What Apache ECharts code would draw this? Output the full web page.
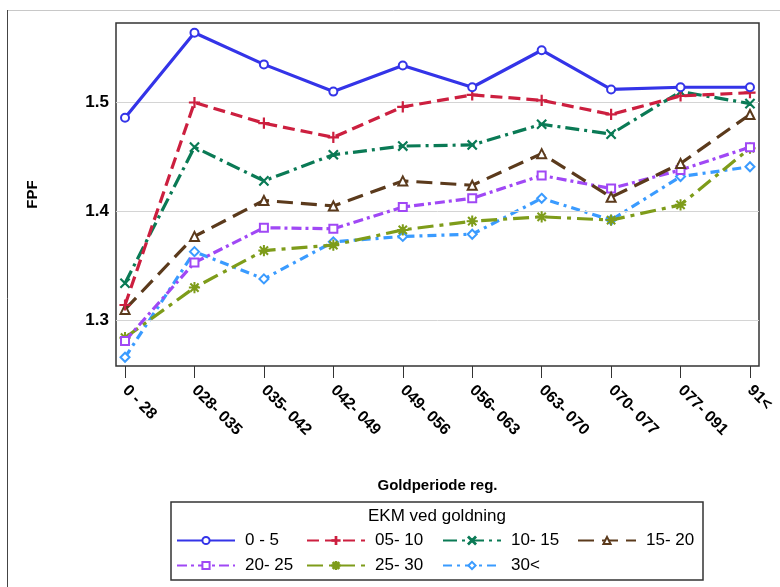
<!DOCTYPE html>
<html><head><meta charset="utf-8">
<script src="https://cdn.jsdelivr.net/npm/echarts@6/dist/echarts.min.js"></script>
<style>html,body{margin:0;padding:0;background:#fff}#c{width:780px;height:587px}</style>
</head><body><div id="c"></div>
<script>
const categories = ['0 - 28','028- 035','035- 042','042- 049','049- 056','056- 063','063- 070','070- 077','077- 091','91<'];
const yTicks = [1.3, 1.4, 1.5];
const seriesNames = ['0 - 5','05- 10','10- 15','15- 20','20- 25','25- 30','30<'];
const s0_5   = [1.486,1.564,1.535,1.510,1.534,1.514,1.548,1.512,1.514,1.514];
const s05_10 = [1.314,1.500,1.481,1.468,1.496,1.507,1.502,1.489,1.506,1.509];
const s10_15 = [1.334,1.459,1.428,1.452,1.460,1.461,1.480,1.471,1.510,1.499];
const s15_20 = [1.310,1.377,1.410,1.405,1.428,1.424,1.453,1.413,1.444,1.489];
const s20_25 = [1.281,1.353,1.385,1.384,1.404,1.412,1.433,1.421,1.438,1.459];
const s25_30 = [1.284,1.330,1.364,1.369,1.383,1.391,1.395,1.392,1.406,1.458];
const s30    = [1.266,1.363,1.338,1.372,1.377,1.379,1.412,1.392,1.432,1.441];

const values = [s0_5,s05_10,s10_15,s15_20,s20_25,s25_30,s30];
const colors = ['#3434E8','#CC1F3F','#0A7A55','#5B3A1C','#A048F5','#7E9C1A','#3A9BFF'];
const dashes = ['solid',[12,6],[14,5,3,5],[16,8],[10,4,3,4],[16,6,4,6],[9,5,3,5]];
const plusP = 'path://M-0.5,-5H0.5V-0.5H5V0.5H0.5V5H-0.5V0.5H-5V-0.5H-0.5Z';
const xP = 'path://M-4,-3.4L-3.4,-4L0,-0.6L3.4,-4L4,-3.4L0.6,0L4,3.4L3.4,4L0,0.6L-3.4,4L-4,3.4L-0.6,0Z';
const starP = 'path://M-0.4,-5H0.4V-1L3.4,-4L4,-3.4L1,-0.4H5V0.4H1L4,3.4L3.4,4L0.4,1V5H-0.4V1L-3.4,4L-4,3.4L-1,0.4H-5V-0.4H-1L-4,-3.4L-3.4,-4L-0.4,-1Z';
const symbols = ['emptyCircle',plusP,xP,'emptyTriangle','emptyRect',starP,'emptyDiamond'];
const symSizes = [8,10,9,9,8,10,9];

const font = 'Liberation Sans, Arial, sans-serif';
const chart = echarts.init(document.getElementById('c'), null, {renderer:'canvas'});

const series = values.map((v,i)=>({
  name: seriesNames[i], type:'line',
  data: v.map((y,k)=>[k,y]),
  symbol: symbols[i], symbolSize: symSizes[i],
  showAllSymbol: true,
  lineStyle:{color:colors[i], width:3.2, type:dashes[i]},
  itemStyle:{color:colors[i], borderColor:colors[i], borderWidth:1.2},
  z: 10-i,
  emphasis:{disabled:true},
  animation:false
}));
series.push({
  type:'line', data:[], silent:true, z:1,
  markLine:{silent:true, symbol:'none', label:{show:false},
    lineStyle:{color:'#d4d4d4', width:1, type:'solid'},
    data: yTicks.map(t=>({yAxis:t}))},
  animation:false
});

const legendCols = [176,306,442,577];
const legendRows = [532,557];
const legends = seriesNames.map((n,i)=>({
  data:[n], left: legendCols[i%4], top: legendRows[Math.floor(i/4)],
  itemWidth:58, itemHeight:9, itemGap:0,
  textStyle:{fontSize:17, fontFamily:font, color:'#000', padding:[0,0,0,5]},
  selectedMode:false, padding:0
}));

chart.setOption({
  animation:false,
  backgroundColor:'#fff',
  grid:{left:116, top:23, right:21, bottom:221, show:true, borderColor:'#333', borderWidth:1.5, backgroundColor:'transparent'},
  xAxis:{type:'value', min:-0.13, max:9.13,
    name:'Goldperiode reg.', nameLocation:'middle', nameGap:112,
    nameTextStyle:{fontSize:15, fontWeight:'bold', fontFamily:font, color:'#000'},
    axisLine:{show:false},
    axisTick:{show:true, length:12, lineStyle:{color:'#333', width:1}, customValues:categories.map((c,i)=>i)},
    axisLabel:{rotate:-45, fontSize:16, fontWeight:'bold', fontFamily:font, color:'#000', margin:22,
      customValues:categories.map((c,i)=>i), formatter:v=>categories[Math.round(v)]},
    splitLine:{show:false}},
  yAxis:{type:'value', min:1.258, max:1.573,
    name:'FPF', nameLocation:'middle', nameGap:76, nameRotate:90,
    nameTextStyle:{fontSize:15, fontWeight:'bold', fontFamily:font, color:'#000'},
    axisLine:{show:false},
    axisTick:{show:true, length:9, lineStyle:{color:'#333', width:1}, customValues:yTicks},
    axisLabel:{fontSize:17, fontWeight:'bold', fontFamily:font, color:'#000', margin:7,
      customValues:yTicks, formatter:v=>v.toFixed(1)},
    splitLine:{show:false}},
  legend: legends,
  graphic:[
    {type:'line', shape:{x1:7,y1:10.5,x2:780,y2:10.5}, style:{stroke:'#c8c8c8', lineWidth:1}},
    {type:'line', shape:{x1:7.5,y1:10,x2:7.5,y2:587}, style:{stroke:'#444', lineWidth:1}},
    {type:'rect', shape:{x:171,y:502,width:532,height:78}, style:{fill:'none', stroke:'#333', lineWidth:1.5}},
    {type:'text', x:437, y:508, style:{text:'EKM ved goldning', fontSize:17, fontFamily:font, fill:'#000', textAlign:'center'}}
  ],
  series: series
});
</script></body></html>
